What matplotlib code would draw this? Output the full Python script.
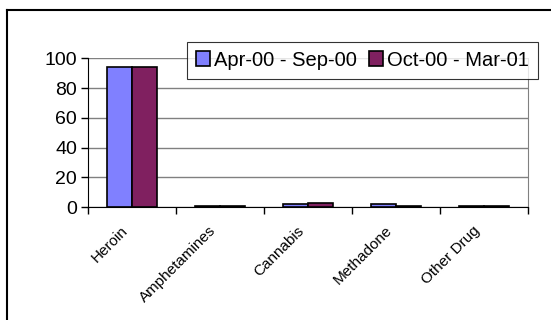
import numpy as np
import matplotlib
matplotlib.use("Agg")
import matplotlib.pyplot as plt
import matplotlib.transforms as mtransforms
from matplotlib.lines import Line2D

# Data
drugs = ["Heroin", "Amphetamines", "Cannabis", "Methadone", "Other Drug"]
period_1 = [94, 0.5, 2, 2, 1]
period_2 = [94, 1, 3, 1, 1]
series_labels = ["Apr-00 - Sep-00", "Oct-00 - Mar-01"]
colors = ["#8080FF", "#802060"]
yticks = [0, 20, 40, 60, 80, 100]

plt.rcParams['font.family'] = ['Liberation Sans', 'DejaVu Sans']

fig = plt.figure(figsize=(5.51, 3.2), dpi=100)
ax = fig.add_axes([88 / 551, 1 - 207 / 320, 440 / 551, (207 - 58.3) / 320])

x = np.arange(len(drugs))
w = 0.285
ax.bar(x - w / 2, period_1, w, color=colors[0], edgecolor="black", linewidth=1.2,
       label=series_labels[0], zorder=3)
ax.bar(x + w / 2, period_2, w, color=colors[1], edgecolor="black", linewidth=1.2,
       label=series_labels[1], zorder=3)

ax.set_xlim(-0.5, len(drugs) - 0.5)
ax.set_ylim(0, 100)
ax.set_yticks(yticks)
ax.set_yticklabels([str(v) for v in yticks], fontsize=14)
ax.yaxis.grid(True, color="#808080", linewidth=1, zorder=0)

# ticks at category boundaries, labels at centres
ax.set_xticks(np.arange(len(drugs) + 1) - 0.5)
ax.set_xticklabels([])
ax.set_xticks(x, minor=True)
ax.set_xticklabels(drugs, minor=True, rotation=45, ha="right", rotation_mode="anchor",
                   fontsize=11)
ax.tick_params(axis="x", which="minor", length=0, pad=12)
ax.tick_params(axis="x", which="major", length=5, width=1, direction="out")
ax.tick_params(axis="y", length=5, width=1, direction="out", pad=3)
shift = mtransforms.ScaledTranslation(-11 / 100, 0, fig.dpi_scale_trans)
for lbl in ax.get_xticklabels(minor=True):
    lbl.set_transform(lbl.get_transform() + shift)

ax.spines["top"].set_visible(False)
ax.spines["right"].set_color("#808080")
ax.spines["left"].set_color("black")
ax.spines["bottom"].set_color("black")

leg = ax.legend(loc="upper right", bbox_to_anchor=(538 / 551, 1 - 41.5 / 320),
                bbox_transform=fig.transFigure, ncol=2, fontsize=14.5, frameon=True,
                fancybox=False, handlelength=0.7, handleheight=0.7, handletextpad=0.2,
                columnspacing=0.6, borderpad=0.45, borderaxespad=0)
leg.get_frame().set_edgecolor("black")
leg.get_frame().set_linewidth(0.8)

# outer chart frame (only top and left edges visible)
fig.add_artist(Line2D([7 / 551, 1.0], [1 - 10 / 320, 1 - 10 / 320],
                      transform=fig.transFigure, color="black", linewidth=1.5))
fig.add_artist(Line2D([7 / 551, 7 / 551], [0, 1 - 10 / 320],
                      transform=fig.transFigure, color="black", linewidth=1.5))

fig.savefig("out.png", dpi=100)
